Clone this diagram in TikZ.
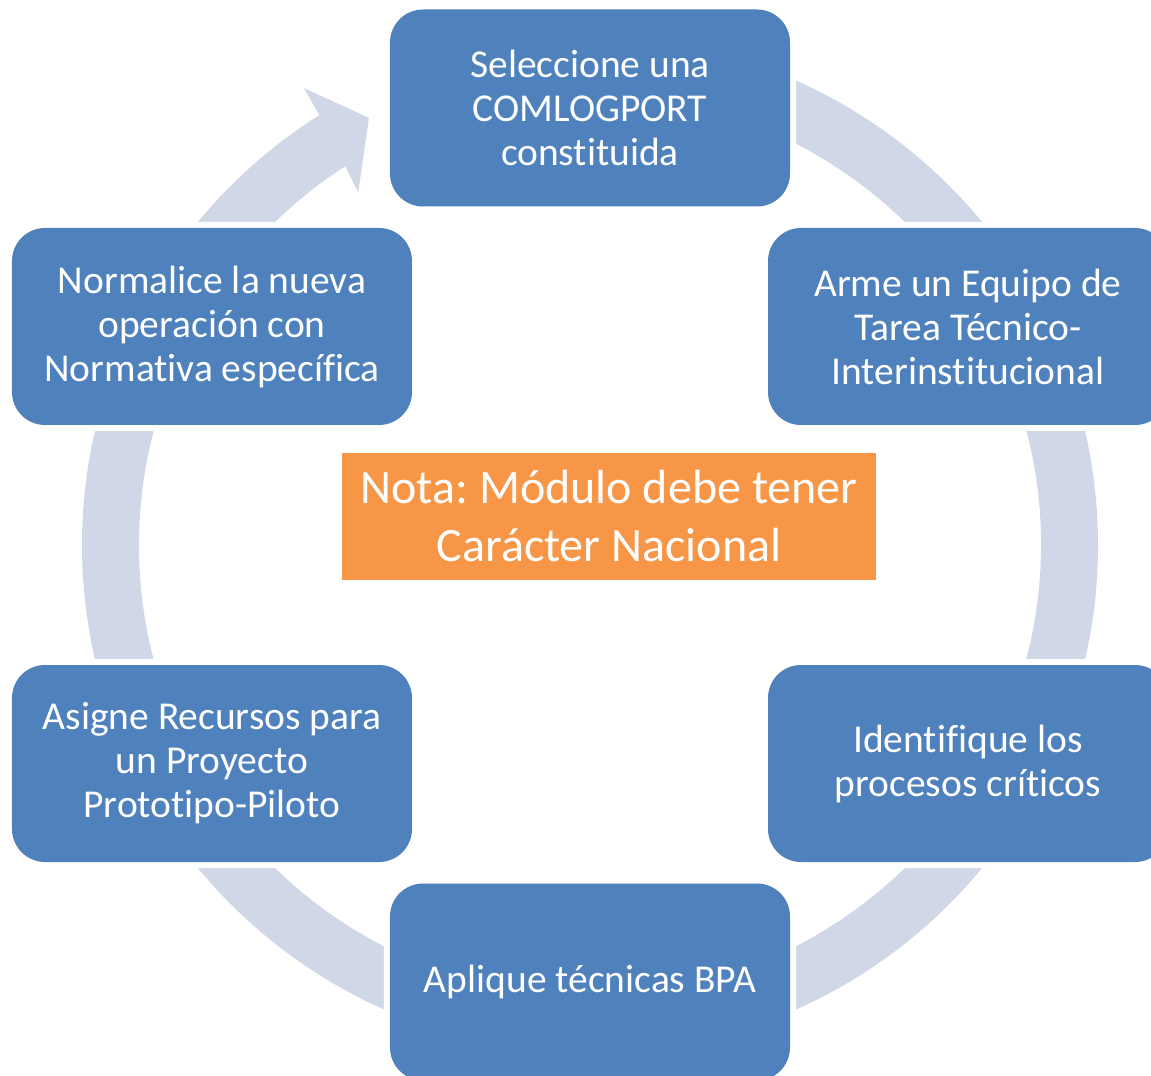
\documentclass[tikz,border=0pt]{standalone}
\usepackage{fontspec}
\setmainfont{Carlito}[Ligatures={NoCommon}]
\frenchspacing
\definecolor{boxblue}{HTML}{4F81BD}
\definecolor{ringgray}{HTML}{D0D8E8}
\definecolor{notaorange}{HTML}{F79646}

\begin{document}
\begin{tikzpicture}[x=1pt,y=1pt,
    main/.style = {fill=boxblue, rounded corners=33pt, minimum width=400pt, minimum height=197pt, text=white, align=center, font=\fontsize{39.5}{44}\selectfont, preaction={draw=white, line width=12pt}},
    nota/.style = {fill=notaorange, minimum width=534pt, minimum height=127pt, text=white, align=center, font=\fontsize{48}{58}\selectfont}]
                \useasboundingbox (-590,-531) rectangle (561,545);
                \fill[ringgray] (95:508) arc[start angle=95, end angle=-237.8, radius=508pt]
                    -- (122.04:539) -- (117.36:481) -- (123.31:422) -- (122.88:451)
                    arc[start angle=-237.12, end angle=95, radius=451pt] -- cycle;
                \node[main] (1) at (90:437) {Seleccione una\\COMLOGPORT\\constituida};
                \node[main] (2) at (378,218.5) {Arme un Equipo de\\Tarea Técnico-\\Interinstitucional};
                \node[main] (3) at (378,-218.5) {Identifique los\\procesos críticos};
                \node[main] (4) at (-90:437) {Aplique técnicas BPA};
                \node[main] (5) at (-378,-218.5) {Asigne Recursos para\\un Proyecto\\Prototipo-Piloto};
                \node[main] (6) at (-378,218.5) {Normalice la nueva\\operación con\\Normativa específica};
                \node[nota] (nota) at (19,28.5) {Nota: Módulo debe tener\\Carácter Nacional};
            \end{tikzpicture}
\end{document}
